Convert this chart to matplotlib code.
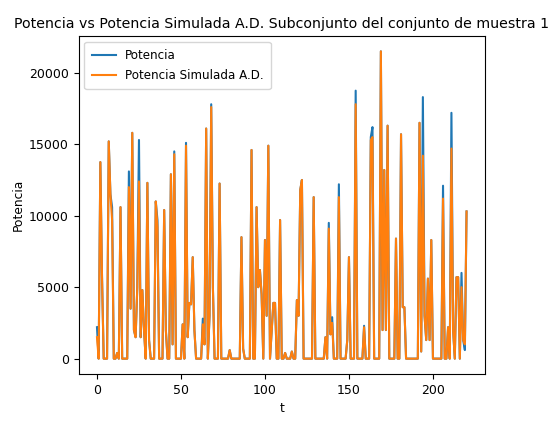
import matplotlib
matplotlib.use("Agg")
import matplotlib.pyplot as plt

# Potencia medida (kW) por instante t
potencia = [
    2200, 0, 13750, 5700, 0, 0, 0, 15200, 11500, 10600,
    0, 0, 400, 0, 10600, 0, 0, 0, 0, 13100,
    3500, 15800, 2000, 1500, 5000, 15300, 1500, 4800, 2000, 0,
    12300, 1300, 0, 0, 0, 11000, 9700, 0, 0, 0,
    10400, 2000, 0, 0, 12900, 1000, 14500, 0, 0, 0,
    0, 2400, 0, 15100, 1500, 3900, 3800, 7100, 2000, 0,
    0, 0, 0, 2800, 1000, 16100, 0, 3000, 17800, 5000,
    0, 0, 0, 12250, 0, 0, 0, 0, 0, 600,
    0, 0, 0, 0, 0, 0, 8500, 700, 0, 0,
    0, 0, 14600, 0, 0, 10600, 5000, 6200, 4500, 0,
    8300, 3000, 14900, 0, 2000, 3900, 3900, 0, 0, 9700,
    0, 0, 400, 0, 0, 0, 500, 0, 0, 4100,
    3000, 11800, 12500, 0, 0, 0, 0, 0, 0, 11300,
    0, 0, 0, 0, 0, 0, 1500, 0, 9500, 1700,
    2900, 0, 0, 0, 12200, 0, 0, 0, 0, 1300,
    7100, 0, 0, 0, 18750, 0, 0, 0, 0, 2300,
    0, 0, 0, 15500, 16200, 0, 0, 0, 0, 21500,
    2000, 13200, 2000, 16300, 0, 0, 0, 0, 8400, 0,
    0, 15700, 3600, 3600, 0, 0, 0, 0, 0, 0,
    0, 0, 16500, 500, 18300, 3000, 1300, 5600, 1300, 8300,
    0, 0, 0, 0, 0, 0, 12100, 0, 0, 2200,
    0, 17200, 2000, 0, 5700, 5700, 0, 6000, 1300, 600, 10300,
]

# Potencia simulada con el arbol de decision
potencia_sim = [
    1500, 0, 13750, 5700, 0, 0, 0, 15200, 11500, 9700,
    0, 0, 400, 0, 10600, 0, 0, 0, 0, 12000,
    3500, 15800, 2000, 1500, 5000, 12400, 1500, 4800, 2000, 0,
    12300, 1300, 0, 0, 0, 11000, 9200, 0, 0, 0,
    10400, 2000, 0, 0, 12900, 1000, 14300, 0, 0, 0,
    0, 2400, 0, 14900, 1500, 3900, 3800, 7100, 2000, 0,
    0, 0, 0, 2400, 1000, 16100, 0, 3000, 17600, 5000,
    0, 0, 0, 12250, 0, 0, 0, 0, 0, 600,
    0, 0, 0, 0, 0, 0, 8500, 700, 0, 0,
    0, 0, 14600, 0, 0, 10600, 5000, 6200, 4500, 0,
    8300, 3000, 14900, 0, 2000, 3900, 3900, 0, 0, 9700,
    0, 0, 400, 0, 0, 0, 500, 0, 0, 4100,
    3000, 11800, 12500, 0, 0, 0, 0, 0, 0, 11300,
    0, 0, 0, 0, 0, 0, 1500, 0, 9100, 1700,
    2500, 0, 0, 0, 11300, 0, 0, 0, 0, 1300,
    7100, 0, 0, 0, 17800, 0, 0, 0, 0, 2200,
    0, 0, 0, 15300, 15500, 0, 0, 0, 0, 21500,
    2000, 13200, 2000, 16300, 0, 0, 0, 0, 8400, 0,
    0, 15700, 3600, 3600, 0, 0, 0, 0, 0, 0,
    0, 0, 16500, 500, 14200, 3000, 1300, 5600, 1300, 8300,
    0, 0, 0, 0, 0, 0, 11200, 0, 0, 2200,
    0, 14700, 2000, 0, 5700, 5700, 0, 5000, 1300, 1000, 10300,
]

t = list(range(len(potencia)))

fig = plt.figure(figsize=(5.54, 4.23), dpi=100)
fig.subplots_adjust(left=0.1417, right=0.8755, bottom=0.1158, top=0.9149)
ax = fig.add_subplot(111)

ax.plot(t, potencia, label="Potencia")
ax.plot(t, potencia_sim, label="Potencia Simulada A.D.")

ax.set_title("Potencia vs Potencia Simulada A.D. Subconjunto del conjunto de muestra 1",
             fontsize=10.2)
ax.set_xlabel("t", fontsize=8.8)
ax.set_ylabel("Potencia", fontsize=8.8, labelpad=3)
ax.tick_params(labelsize=9)
ax.legend(loc="upper left", fontsize=8.6, borderpad=0.6, labelspacing=0.6)

fig.savefig("out.png", dpi=100)
